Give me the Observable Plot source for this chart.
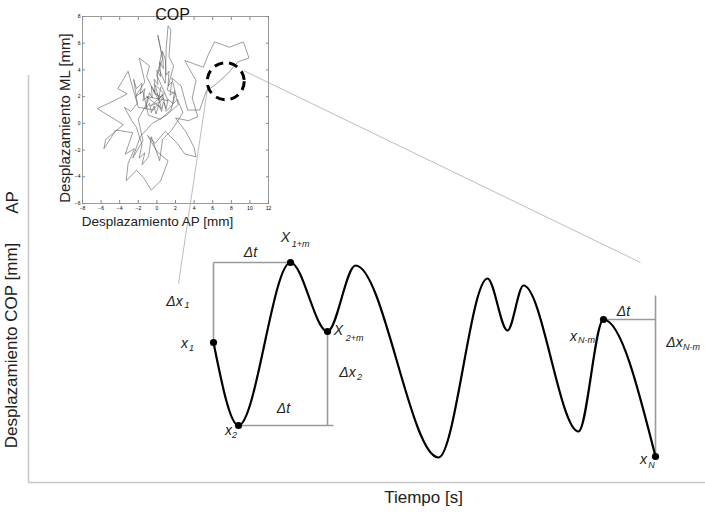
<!DOCTYPE html>
<html><head><meta charset="utf-8">
<script src="https://cdn.jsdelivr.net/npm/d3@7"></script>
<script src="https://cdn.jsdelivr.net/npm/@observablehq/plot@0.6"></script>
<style>
html,body{margin:0;padding:0;background:#fff;}
#wrap{position:relative;width:705px;height:514px;overflow:hidden;font-family:"Liberation Sans",Arial,sans-serif;}
#wrap svg{position:absolute;left:0;top:0;}
</style></head><body><div id="wrap"></div>
<script>
// ---- Main schematic signal (time units, displacement units) ----
const signalT = [18.5, 21.0, 26.2, 29.9, 32.7, 41.0, 45.9, 47.9, 49.5, 55.0, 57.5, 62.7];
const signalY = [14.0, 5.7, 22.0, 15.1, 21.7, 2.5, 20.4, 15.2, 19.7, 5.1, 16.3, 2.6];
const markedIdx = [0, 1, 2, 3, 10, 11];

// axis extents
const axisTMax = 67.7;
const axisYMax = 40.7;

// guide line overhangs
const bracket2End = 30.5;
const bracket3Top = 18.7;

// zoom connectors (main units)
const connFrom = [[17.9, 39.4], [21.5, 41.2]];
const connTo = [[15.0, 19.9], [61.2, 22.0]];

// annotations: base label and subscript (main units)
const labelBase = ["Δt", "Δt", "Δt", "Δx", "x", "x", "X", "X", "Δx", "x", "x", "Δx"];
const labelT = [22.2, 25.5, 59.5, 14.6, 15.6, 20.0, 25.7, 31.0, 31.9, 54.5, 61.5, 64.6];
const labelY = [23.0, 7.4, 17.1, 18.1, 13.9, 5.2, 24.5, 15.2, 11.0, 14.6, 2.3, 14.0];
const subText = ["", "", "", "1", "1", "2", "1+m", "2+m", "2", "N-m", "N", "N-m"];
const subT = [0, 0, 0, 15.85, 16.3, 20.6, 27.2, 32.6, 33.1, 55.8, 62.3, 66.3];
const subY = [0, 0, 0, 17.7, 13.4, 4.7, 23.8, 14.4, 10.5, 14.2, 1.7, 13.5];

// ---- Inset COP trajectory (AP mm, ML mm) ----
const copPath = [
 [0.2,2.0],[-0.4,2.5],[0.3,1.6],[-0.7,1.3],[0.8,2.2],[-0.2,2.9],[0.5,1.1],[-1.1,2.0],[1.2,1.7],[0.0,3.6],
 [0.6,4.8],[0.1,6.6],[0.5,5.3],[0.2,4.1],[0.9,3.0],[1.0,5.6],[1.2,7.3],[1.5,7.0],[1.3,5.0],[1.8,4.3],
 [1.1,2.5],[2.0,2.2],[1.5,1.0],[0.4,0.3],[-0.9,0.6],[-1.5,2.4],[-2.3,2.0],[-1.3,3.1],[-1.9,4.9],[-0.8,4.3],
 [-1.1,3.5],[-0.2,2.2],[0.7,1.9],[-0.4,1.0],[-2.0,1.2],[-3.1,3.9],[-4.2,2.6],[-3.2,2.2],[-4.6,1.7],[-6.4,1.1],
 [-5.0,0.5],[-3.6,-0.1],[-4.8,-0.8],[-5.5,-1.2],[-5.7,-1.9],[-4.4,-0.5],[-2.6,-0.7],[-3.4,-2.3],[-2.4,-1.9],[-3.1,-3.0],
 [-3.3,-4.3],[-2.2,-3.5],[-1.4,-4.1],[-0.6,-5.0],[0.4,-4.3],[1.2,-2.8],[0.0,-2.1],[-1.0,-0.9],[-0.2,-1.5],[0.9,-0.6],
 [2.2,-1.5],[3.0,-2.3],[4.2,-2.5],[4.0,-1.8],[3.1,-0.6],[2.0,0.4],[3.4,0.2],[4.4,0.5],[3.8,1.9],[4.2,3.2],
 [3.0,4.7],[3.8,4.5],[5.0,4.2],[5.5,5.1],[6.2,6.1],[7.8,5.7],[9.3,6.1],[9.9,4.9],[8.7,4.6],[7.6,3.7],
 [6.3,2.9],[5.3,2.4],[4.6,1.0],[3.3,1.0],[2.6,2.8],[1.6,3.4],[2.3,1.4],[1.0,0.6],[-0.5,0.0],[-1.8,-1.0],
 [-2.6,-2.6],[-1.5,-1.3],[-2.0,0.3],[-1.0,1.6],[-0.8,2.3],[-0.5,1.9],[-0.6,2.8],[-0.2,2.4],[-0.3,3.3],[0.1,2.9],
 [0.0,4.0],[0.4,3.5],[0.3,4.6],[0.7,4.1],[0.6,5.4],[0.9,4.8],[1.0,3.6],[1.3,3.9],[1.2,2.8],[1.6,3.1],
 [1.4,2.1],[1.9,2.4],[1.7,1.5],[1.2,1.8],[1.0,1.1],[0.7,1.6],[0.5,0.9],[0.2,1.4],[-0.1,0.7],[-0.3,1.3],
 [-0.6,0.8],[-0.8,1.5],[-1.2,1.1],[-1.0,2.0],[-1.5,1.7],[-1.3,2.6],[-1.8,2.2],[-1.6,3.0],[-2.2,2.6],[-2.5,3.3],
 [-2.1,1.5],[-2.8,0.9],[-3.5,1.2],[-2.7,0.2],[-2.2,-0.3],[-1.6,-1.6],[-1.9,-2.6],[-1.3,-2.2],[-1.6,-3.1],[-0.9,-2.5],
 [-0.6,-1.0],[0.3,-2.8],[0.6,-1.2],[1.6,-0.5],[2.8,0.8],[2.2,1.8],[1.0,0.9],[0.6,2.2],[0.2,1.8],[0.4,2.7]
];
const insetXTicks = [-8, -6, -4, -2, 0, 2, 4, 6, 8, 10, 12];
const insetYTicks = [-6, -4, -2, 0, 2, 4, 6, 8];
const zoomCircle = [[7.4, 3.15]];

const FONT = '"Liberation Sans", Arial, sans-serif';

// ---- build main tables ----
const signal = signalT.map((t, i) => ({t, y: signalY[i]}));
const marked = markedIdx.map(i => signal[i]);
const [p1, p2, p1m, p2m] = [signal[0], signal[1], signal[2], signal[3]];
const pNm = signal[10], pN = signal[11];
const guides = [
  {t1: p1.t, y1: p1.y, t2: p1.t, y2: p1m.y},
  {t1: p1.t, y1: p1m.y, t2: p1m.t, y2: p1m.y},
  {t1: p2m.t, y1: p2m.y, t2: p2m.t, y2: p2.y},
  {t1: p2.t, y1: p2.y, t2: bracket2End, y2: p2.y},
  {t1: pNm.t, y1: pNm.y, t2: pN.t, y2: pNm.y},
  {t1: pN.t, y1: pN.y, t2: pN.t, y2: bracket3Top}
];
const connectors = connFrom.map((a, i) => ({t1: a[0], y1: a[1], t2: connTo[i][0], y2: connTo[i][1]}));
const bases = labelBase.map((s, i) => ({s, t: labelT[i], y: labelY[i]}));
const subs = subText.map((s, i) => ({s, t: subT[i], y: subY[i]})).filter(d => d.s);

const main = Plot.plot({
  width: 705, height: 514, margin: 0,
  style: {background: "white", fontFamily: FONT},
  x: {domain: [-2.8, 67.7], axis: null},
  y: {domain: [-3.2, 48.2], axis: null},
  marks: [
    Plot.ruleX([0], {y1: 0, y2: axisYMax, stroke: "#c8c8c8", strokeWidth: 1.5}),
    Plot.ruleY([0], {x1: 0, x2: axisTMax, stroke: "#c8c8c8", strokeWidth: 1.5}),
    Plot.link(connectors, {x1: "t1", y1: "y1", x2: "t2", y2: "y2", stroke: "#bdbdbd", strokeWidth: 1}),
    Plot.link(guides, {x1: "t1", y1: "y1", x2: "t2", y2: "y2", stroke: "#9a9a9a", strokeWidth: 1.6}),
    Plot.line(signal, {x: "t", y: "y", curve: "monotone-x", stroke: "black", strokeWidth: 2.2}),
    Plot.dot(marked, {x: "t", y: "y", r: 3.6, fill: "black"}),
    Plot.text(bases, {x: "t", y: "y", text: "s", fontSize: 14, fontStyle: "italic", fill: "#222"}),
    Plot.text(subs, {x: "t", y: "y", text: "s", fontSize: 9, fontStyle: "italic", fill: "#222"}),
    Plot.text([{t: 39.5, y: -1.5}], {x: "t", y: "y", text: () => "Tiempo [s]", fontSize: 17, fill: "#222"}),
    Plot.text([{t: -1.7, y: 13.7}], {x: "t", y: "y", text: () => "Desplazamiento COP [mm]", fontSize: 17, rotate: -90, fill: "#222"}),
    Plot.text([{t: -1.6, y: 28.0}], {x: "t", y: "y", text: () => "AP", fontSize: 17, rotate: -90, fill: "#222"})
  ]
});

const cop = copPath.map(([x, y]) => ({x, y}));
const inset = Plot.plot({
  width: 290, height: 240,
  marginLeft: 82, marginRight: 22, marginTop: 16, marginBottom: 37,
  style: {background: "transparent", fontFamily: FONT},
  x: {domain: [-8, 12]},
  y: {domain: [-6, 8]},
  marks: [
    Plot.frame({stroke: "#9a9a9a", strokeWidth: 1}),
    Plot.line(cop, {x: "x", y: "y", stroke: "#5a5a5a", strokeWidth: 0.6}),
    Plot.axisX(insetXTicks, {anchor: "bottom", tickSize: 3, dy: -3, tickFormat: () => "", stroke: "#888", label: null}),
    Plot.axisX(insetXTicks, {anchor: "top", tickSize: 3, dy: 3, tickFormat: () => "", stroke: "#888", label: null}),
    Plot.axisY(insetYTicks, {anchor: "left", tickSize: 3, dx: 3, tickFormat: () => "", stroke: "#888", label: null}),
    Plot.axisY(insetYTicks, {anchor: "right", tickSize: 3, dx: -3, tickFormat: () => "", stroke: "#888", label: null}),
    Plot.axisX(insetXTicks, {anchor: "bottom", tickSize: 0, tickPadding: 3, fontSize: 5, label: null}),
    Plot.axisY(insetYTicks, {anchor: "left", tickSize: 0, tickPadding: 2, fontSize: 5, label: null}),
    Plot.dot(zoomCircle, {x: d => d[0], y: d => d[1], r: 18.5, stroke: "black", strokeWidth: 3, strokeDasharray: "9,6", fill: "none"}),
    Plot.text(["COP"], {frameAnchor: "top", dy: -8, dx: -3, fontSize: 16, fill: "#111"}),
    Plot.text(["Desplazamiento ML [mm]"], {frameAnchor: "left", textAnchor: "middle", rotate: -90, dx: -17, dy: 8, fontSize: 15, fill: "#222"}),
    Plot.text(["Desplazamiento AP [mm]"], {frameAnchor: "bottom", dy: 22, dx: -18, fontSize: 13.5, fill: "#222"})
  ]
});

const wrap = document.getElementById("wrap");
wrap.appendChild(main);
wrap.appendChild(inset);
</script></body></html>
